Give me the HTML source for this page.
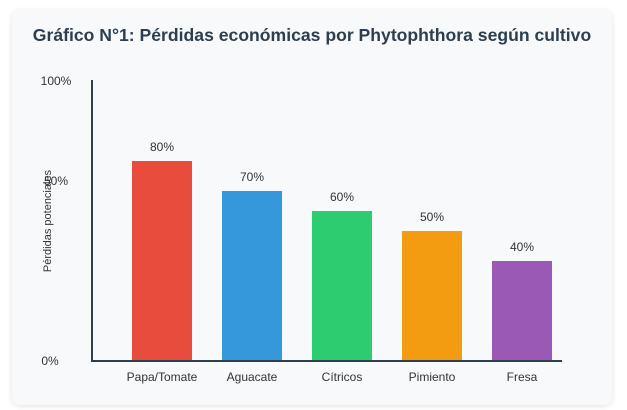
<!DOCTYPE html>
<html><head><meta charset="utf-8"><style>
body{margin:0;width:627px;height:410px;background:#fff;font-family:"Liberation Sans",sans-serif;overflow:hidden}
#card{position:absolute;left:12px;top:10px;width:600px;height:395px;background:#f8f9fa;border-radius:8px;box-shadow:0 1px 6px rgba(0,0,0,0.12)}
svg{position:absolute;left:0;top:0}
</style></head><body>
<div id="card"></div>
<svg id="chart" width="627" height="410">
<text x="312" y="41" text-anchor="middle" font-size="17.6" font-weight="bold" fill="#2c3e50">Gráfico N°1: Pérdidas económicas por Phytophthora según cultivo</text>
<text x="56" y="85" text-anchor="middle" font-size="12" fill="#333">100%</text>
<text x="56" y="185" text-anchor="middle" font-size="12" fill="#333">50%</text>
<text x="50" y="365" text-anchor="middle" font-size="12" fill="#333">0%</text>
<text transform="translate(51,221) rotate(-90)" text-anchor="middle" font-size="11" fill="#333">Pérdidas potenciales</text>
<g id="bars"></g>
<line x1="92" y1="80" x2="92" y2="361" stroke="#2c3e50" stroke-width="2"/>
<line x1="91" y1="361" x2="562" y2="361" stroke="#2c3e50" stroke-width="2"/>
</svg>
<script>
const categories=["Papa/Tomate","Aguacate","Cítricos","Pimiento","Fresa"];
const values=[80,68,60,52,40];
const colors=["#e74c3c","#3498db","#2ecc71","#f39c12","#9b59b6"];
const valueLabels=["80%","70%","60%","50%","40%"];
const ns="http://www.w3.org/2000/svg";
function y(v){return 361-v*2.5;}
function x(i){return 132+i*90;}
const g=document.getElementById('bars');
categories.forEach((c,i)=>{
  const r=document.createElementNS(ns,'rect');
  r.setAttribute('x',x(i));r.setAttribute('y',y(values[i]));
  r.setAttribute('width',60);r.setAttribute('height',361-y(values[i]));
  r.setAttribute('fill',colors[i]);
  
  
  g.appendChild(r);
  const t=document.createElementNS(ns,'text');
  t.setAttribute('x',x(i)+30);t.setAttribute('y',y(values[i])-10);
  t.setAttribute('text-anchor','middle');t.setAttribute('font-size','12');t.setAttribute('fill','#333');
  t.textContent=valueLabels[i];
  
  
  g.appendChild(t);
  const l=document.createElementNS(ns,'text');
  l.setAttribute('x',x(i)+30);l.setAttribute('y',381);
  l.setAttribute('text-anchor','middle');l.setAttribute('font-size','12');l.setAttribute('fill','#333');
  l.textContent=c;
  
  
  g.appendChild(l);
});
</script>
</body></html>
